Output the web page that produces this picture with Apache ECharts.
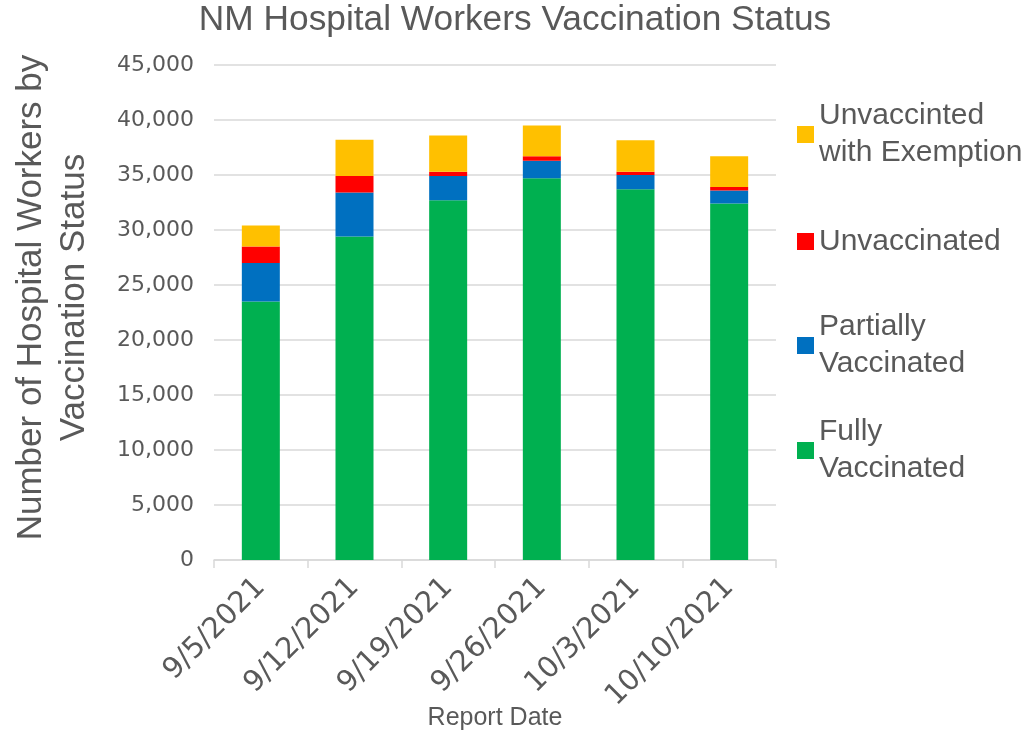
<!DOCTYPE html>
<html>
<head>
<meta charset="utf-8">
<script src="https://cdn.jsdelivr.net/npm/echarts@6/dist/echarts.min.js"></script>
<style>
  html, body { margin: 0; padding: 0; background: #fff; }
  #main { width: 1030px; height: 731px; }
</style>
</head>
<body>
<div id="main"></div>
<script>
var myChart = echarts.init(document.getElementById('main'));

var dates = ['9/5/2021', '9/12/2021', '9/19/2021', '9/26/2021', '10/3/2021', '10/10/2021'];
var fullyVaccinated = [23500, 29400, 32700, 34700, 33700, 32400];
var partiallyVaccinated = [3500, 4000, 2200, 1600, 1300, 1200];
var unvaccinated = [1500, 1500, 400, 400, 300, 300];
var unvaccExemption = [1900, 3300, 3300, 2800, 2850, 2800];

var textColor = '#595959';
var font = 'Liberation Sans';
var numFont = 'DejaVu Sans';

// one legend box per item so the spacing matches the original
function legendItem(name, top, twoLines) {
    return {
        data: [name],
        left: 797,
        top: top,
        orient: 'vertical',
        padding: 0,
        itemWidth: 17,
        itemHeight: 17,
        icon: 'rect',
        selectedMode: false,
        textStyle: {
            color: textColor,
            fontFamily: font,
            fontSize: 30,
            lineHeight: 37,
            padding: twoLines ? [37, 0, 0, 0] : 0
        }
    };
}

function bar(name, data, color) {
    return {
        name: name,
        type: 'bar',
        stack: 'total',
        barWidth: 38,
        data: data,
        itemStyle: { color: color },
        emphasis: { disabled: true }
    };
}

option = {
    animation: false,
    title: {
        text: 'NM Hospital Workers Vaccination Status',
        left: 'center',
        top: -2,
        textStyle: {
            color: textColor,
            fontFamily: font,
            fontSize: 35.3,
            fontWeight: 'normal'
        }
    },
    legend: [
        legendItem('Unvaccinted\nwith Exemption', 79, true),
        legendItem('Unvaccinated', 223, false),
        legendItem('Partially\nVaccinated', 290, true),
        legendItem('Fully\nVaccinated', 395, true)
    ],
    grid: {
        left: 214,
        right: 254,
        top: 65,
        bottom: 171,
        containLabel: false,
        outerBoundsMode: 'none'
    },
    xAxis: {
        type: 'category',
        data: dates,
        name: 'Report Date',
        nameLocation: 'middle',
        nameGap: 146,
        nameMoveOverlap: false,
        nameTextStyle: {
            color: textColor,
            fontFamily: font,
            fontSize: 25
        },
        axisLine: { lineStyle: { color: '#D9D9D9', width: 1.5 } },
        axisTick: { show: true, length: 8, lineStyle: { color: '#D9D9D9', width: 1.5 } },
        axisLabel: {
            rotate: 45,
            interval: 0,
            margin: 23,
            verticalAlign: 'middle',
            padding: [6, 0, 0, 0],
            color: textColor,
            fontFamily: numFont,
            fontSize: 29
        }
    },
    yAxis: {
        type: 'value',
        min: 0,
        max: 45000,
        interval: 5000,
        name: 'Number of Hospital Workers by\nVaccination Status',
        nameLocation: 'middle',
        nameGap: 118,
        nameTextStyle: {
            color: textColor,
            fontFamily: font,
            fontSize: 35,
            lineHeight: 43,
            padding: [0, 0, 0, 30]
        },
        axisLine: { show: false },
        axisTick: { show: false },
        splitLine: { lineStyle: { color: '#D9D9D9', width: 1.5 } },
        axisLabel: {
            margin: 20,
            color: textColor,
            fontFamily: numFont,
            fontSize: 22,
            formatter: function (v) {
                return v.toLocaleString('en-US');
            }
        }
    },
    series: [
        bar('Fully\nVaccinated', fullyVaccinated, '#00B050'),
        bar('Partially\nVaccinated', partiallyVaccinated, '#0070C0'),
        bar('Unvaccinated', unvaccinated, '#FF0000'),
        bar('Unvaccinted\nwith Exemption', unvaccExemption, '#FFC000')
    ]
};

myChart.setOption(option);
</script>
</body>
</html>
